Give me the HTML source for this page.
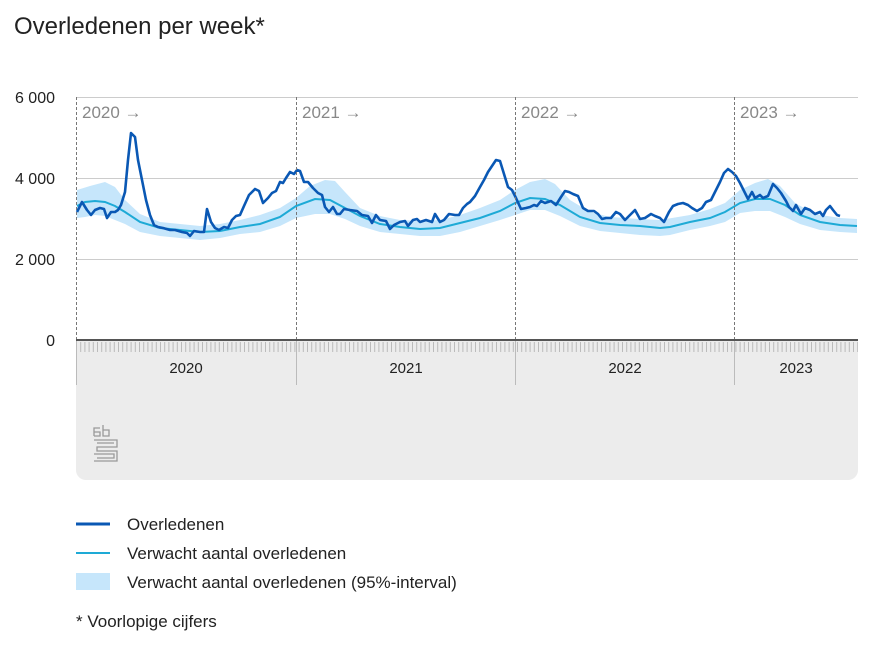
<!DOCTYPE html>
<html><head><meta charset="utf-8"><style>
body{margin:0;background:#fff;font-family:"Liberation Sans",sans-serif;}
</style></head><body>
<svg width="874" height="656" xmlns="http://www.w3.org/2000/svg" font-family="Liberation Sans, sans-serif">
<text x="14" y="34" font-size="24" fill="#222">Overledenen per week*</text>
<path d="M76 341 H858 V470 a10 10 0 0 1 -10 10 H86 a10 10 0 0 1 -10 -10 Z" fill="#ececec"/>
<g stroke="#ccc" stroke-width="1">
<line x1="76" y1="97.5" x2="858" y2="97.5"/>
<line x1="76" y1="178.5" x2="858" y2="178.5"/>
<line x1="76" y1="259.5" x2="858" y2="259.5"/>
</g>
<g font-size="16" fill="#222" text-anchor="end">
<text x="55" y="103">6 000</text><text x="55" y="184">4 000</text><text x="55" y="265">2 000</text><text x="55" y="346">0</text>
</g>
<polygon fill="#c6e6fb" points="77,190 90,186 105,182 115,187 125,200 140,214 160,222 180,224 200,226 220,224 240,220 260,215 280,208 296,198 310,186 325,180 335,181 345,192 360,208 380,216 400,220 420,221 440,220 460,215 480,208 500,200 515,190 530,182 545,179 555,184 570,200 590,212 610,217 640,219 660,220 690,215 710,209 725,203 740,190 755,183 768,179 780,186 795,203 815,214 840,218 857,219 857,233 840,232 820,230 800,224 785,217 770,211 755,211 740,213 725,222 710,226 690,230 670,235 660,236 640,235 620,233 600,231 580,226 560,216 545,210 530,210 515,215 500,220 480,226 460,232 440,236 420,236 400,234 380,232 360,226 345,219 330,214 315,214 296,218 280,226 260,232 240,234 220,238 200,240 180,238 160,236 140,232 125,224 115,220 105,216 95,215 85,217 77,218"/>
<polyline fill="none" stroke="#1eaad6" stroke-width="2" points="77,206 85,202 95,201 105,202 115,206 125,212 140,222 160,228 180,230 200,232 220,231 240,227 260,224 280,217 296,206 315,199 330,200 345,208 360,216 380,224 400,227 420,229 440,228 460,223 480,218 500,211 515,203 530,198 545,199 560,205 580,217 600,223 620,225 640,226 660,228 670,227 690,222 710,218 725,212 740,203 755,199 770,199 785,205 800,215 820,222 840,225 857,226"/>
<polyline fill="none" stroke="#0a58b4" stroke-width="2.6" stroke-linejoin="round" points="77,212 82,202 87,210 91,215 95,210 100,208 104,209 107,218 111,212 115,212 118,210 121,205 125,192 128,160 131,133 135,137 138,160 142,180 146,200 150,215 154,225 158,227 163,228 170,230 175,230 182,232 187,233 190,236 194,231 200,232 204,232 207,209 211,222 215,228 219,230 224,227 228,228 232,220 236,216 240,215 244,206 249,195 255,189 259,191 263,203 268,198 272,193 276,191 280,182 283,183 286,178 290,172 294,174 297,170 300,171 304,182 308,182 313,188 318,193 322,195 325,207 329,212 333,207 337,214 340,214 344,209 350,210 357,211 362,215 368,216 372,223 376,215 380,220 386,221 390,229 394,225 400,222 405,221 408,226 413,220 417,219 420,222 426,220 432,222 435,214 440,222 444,220 449,214 455,215 459,215 463,208 467,204 470,202 475,196 480,187 484,180 488,172 492,166 496,160 500,161 504,174 508,187 512,190 516,198 521,209 526,208 530,207 534,205 537,206 541,201 545,203 551,201 556,205 561,197 565,191 569,192 573,194 578,196 583,208 588,211 594,211 598,214 602,219 606,218 611,218 616,212 620,214 625,220 630,215 635,210 640,219 645,218 651,214 655,216 660,218 664,222 669,212 673,206 678,204 683,203 688,205 692,208 697,211 702,208 706,202 711,200 716,190 720,182 724,173 728,169 732,172 736,176 740,183 745,193 748,199 752,192 755,198 760,195 763,198 768,196 773,184 777,188 781,193 786,201 789,207 793,211 796,205 801,214 805,208 810,210 815,214 820,212 823,216 826,210 830,206 833,210 837,215 840,216"/>
<g stroke="#777" stroke-width="1" stroke-dasharray="3,2">
<line x1="76.5" y1="97" x2="76.5" y2="340"/><line x1="296.5" y1="97" x2="296.5" y2="340"/><line x1="515.5" y1="97" x2="515.5" y2="340"/><line x1="734.5" y1="97" x2="734.5" y2="340"/>
</g>
<g font-size="17" fill="#888">
<text x="82" y="118">2020 →</text><text x="302" y="118">2021 →</text><text x="521" y="118">2022 →</text><text x="740" y="118">2023 →</text>
</g>
<line x1="76" y1="340" x2="858" y2="340" stroke="#555" stroke-width="2"/>
<line x1="76" y1="347" x2="858" y2="347" stroke="#bbb" stroke-width="10" stroke-dasharray="1,3.2"/>
<g stroke="#bbb" stroke-width="1">
<line x1="76.5" y1="341" x2="76.5" y2="385"/><line x1="296.5" y1="341" x2="296.5" y2="385"/><line x1="515.5" y1="341" x2="515.5" y2="385"/><line x1="734.5" y1="341" x2="734.5" y2="385"/>
</g>
<g font-size="15" fill="#222" text-anchor="middle">
<text x="186" y="373">2020</text><text x="406" y="373">2021</text><text x="625" y="373">2022</text><text x="796" y="373">2023</text>
</g>
<g fill="none" stroke="#999" stroke-width="1.3">
<path d="M94 436 V428 H100 M94 436 H100 V432 H94 M103 425 V436 H109 V430 H103"/>
<path d="M94 440 H117 V447 H97 V451 H117 V461 H94 M97 443 H114 M97 458 H114 V454 H94"/>
</g>
<line x1="76" y1="524" x2="110" y2="524" stroke="#0a58b4" stroke-width="3"/>
<line x1="76" y1="553" x2="110" y2="553" stroke="#1eaad6" stroke-width="2"/>
<rect x="76" y="573" width="34" height="17" fill="#c6e6fb"/>
<g font-size="17" fill="#222">
<text x="127" y="530">Overledenen</text>
<text x="127" y="559">Verwacht aantal overledenen</text>
<text x="127" y="588">Verwacht aantal overledenen (95%-interval)</text>
<text x="76" y="627">* Voorlopige cijfers</text>
</g>
</svg>
</body></html>
